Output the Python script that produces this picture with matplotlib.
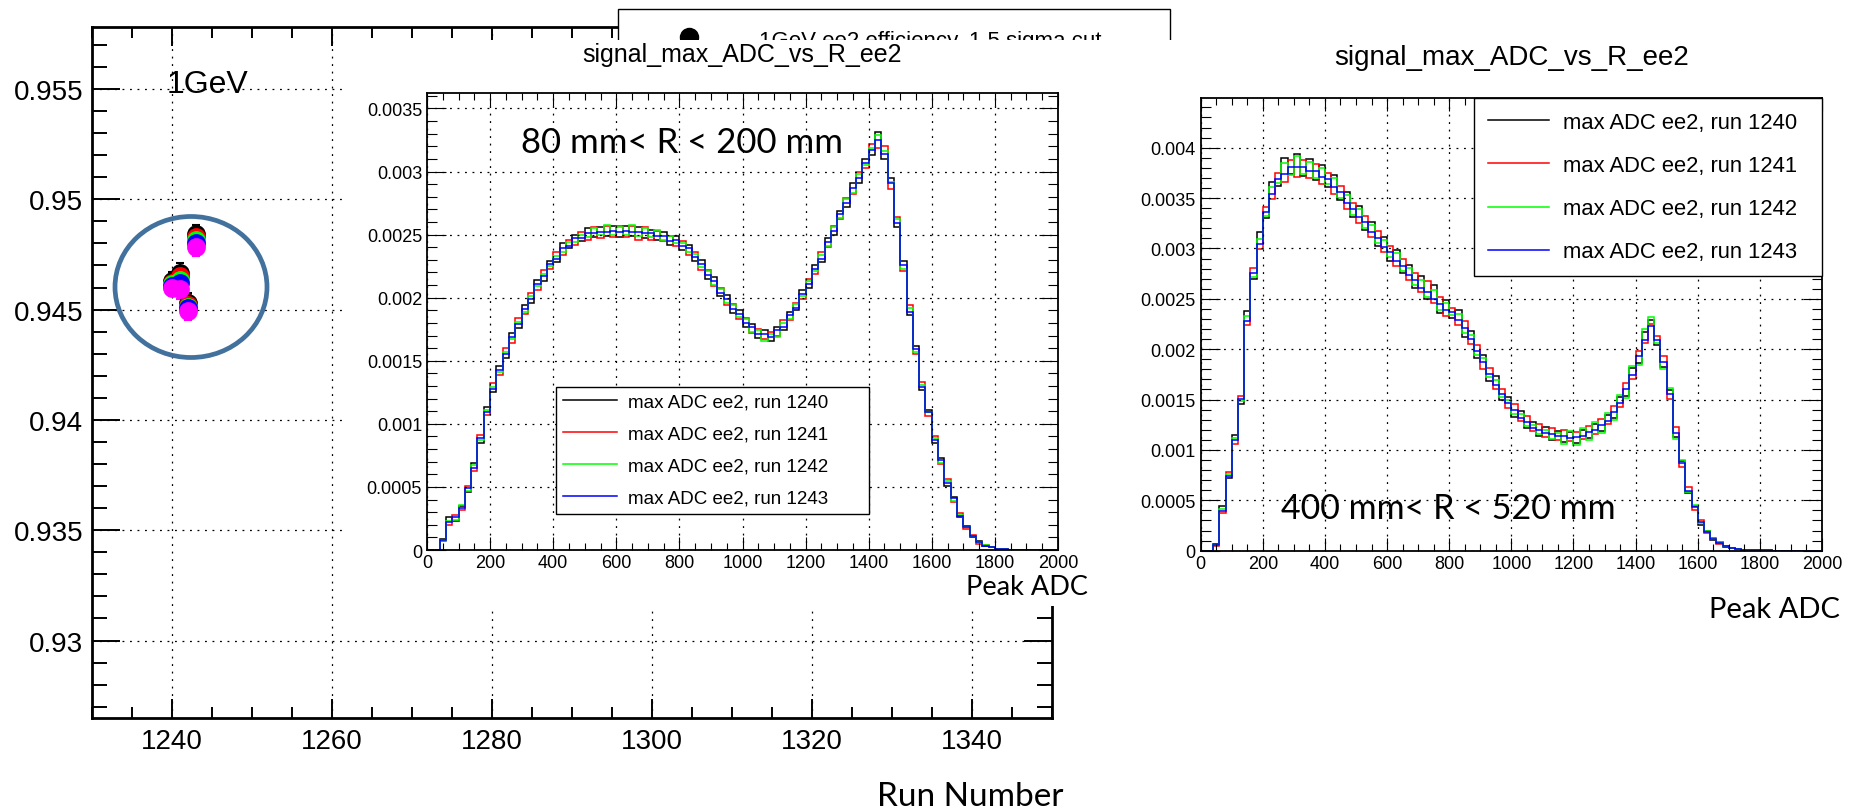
import numpy as np
import matplotlib
matplotlib.use("Agg")
import matplotlib.pyplot as plt
from matplotlib.patches import Rectangle, Ellipse
from matplotlib.lines import Line2D
from matplotlib.ticker import MultipleLocator, FormatStrFormatter

plt.rcParams['font.family'] = ['Liberation Sans', 'DejaVu Sans']

# ---- efficiency vs run (left panel) ----
runs = [1240, 1241, 1242, 1243]
eff_black = [0.94630, 0.94668, 0.94532, 0.94842]
eff_red = [0.94622, 0.94652, 0.94522, 0.94828]
eff_green = [0.94614, 0.94636, 0.94514, 0.94814]
eff_blue = [0.94607, 0.94620, 0.94506, 0.94800]
eff_magenta = [0.94600, 0.94593, 0.94496, 0.94782]
eff_err = [0.00040, 0.00045, 0.00045, 0.00040]
legend_top = "1GeV ee2 efficiency, 1.5 sigma cut"

# ---- peak ADC histograms, 20 ADC bins, values in units of 1e-4 ----
adc_edges = np.arange(0, 2001, 20)
run_labels = ["max ADC ee2, run 1240", "max ADC ee2, run 1241",
              "max ADC ee2, run 1242", "max ADC ee2, run 1243"]

# 80 mm < R < 200 mm
inner_1240 = [0, 0, 0.9, 2.6, 2.3, 3.5, 4.6, 6.9, 8.5, 11.3,
              12.5, 14.6, 15.2, 17.2, 17.6, 19.4, 19.6, 21.4, 21.3, 22.9,
              22.8, 24.3, 23.9, 25.0, 24.5, 25.5, 24.8, 25.6, 24.9, 25.7,
              24.8, 25.7, 24.9, 25.6, 24.7, 25.4, 24.6, 25.2, 24.2, 24.9,
              23.8, 24.2, 22.9, 23.0, 21.5, 21.6, 20.1, 20.2, 18.8, 19.0,
              17.7, 17.9, 16.8, 17.4, 16.6, 17.7, 17.4, 18.9, 19.0, 20.6,
              20.8, 22.6, 22.8, 24.7, 25.0, 26.9, 27.2, 29.1, 29.1, 31.0,
              31.3, 33.1, 31.0, 29.5, 25.6, 22.9, 18.6, 16.2, 12.7, 11.1,
              8.5, 7.3, 5.1, 4.2, 2.6, 1.9, 1.0, 0.7, 0.3, 0.2,
              0.1, 0.06, 0.02, 0.02, 0.01, 0, 0, 0, 0, 0]
inner_1241 = [0, 0, 0.7, 2.0, 2.8, 3.2, 5.1, 6.3, 9.1, 10.7,
              13.2, 13.9, 16.0, 16.4, 18.4, 18.7, 20.4, 20.6, 22.2, 22.3,
              23.6, 23.4, 24.6, 24.2, 25.2, 24.6, 25.6, 24.7, 25.7, 24.8,
              25.7, 24.8, 25.7, 24.6, 25.6, 24.6, 25.3, 24.5, 24.9, 24.1,
              24.5, 23.4, 23.6, 22.2, 22.2, 20.9, 20.8, 19.4, 19.5, 18.3,
              18.4, 17.2, 17.5, 16.7, 17.3, 17.0, 18.2, 18.2, 19.6, 19.9,
              21.5, 21.9, 23.6, 24.0, 25.7, 26.2, 27.9, 28.2, 30.0, 30.3,
              32.2, 31.9, 32.0, 28.6, 26.4, 22.1, 19.4, 15.5, 13.3, 10.6,
              9.0, 6.8, 5.6, 3.8, 2.9, 1.7, 1.2, 0.5, 0.4, 0.2,
              0.1, 0.04, 0.03, 0.01, 0.01, 0, 0, 0, 0, 0]
inner_1242 = [0, 0, 0.8, 2.3, 2.4, 3.6, 4.7, 6.7, 8.7, 11.1,
              12.9, 14.1, 15.7, 16.7, 18.1, 18.9, 20.1, 20.9, 21.9, 22.5,
              23.3, 23.6, 24.4, 24.4, 25.0, 24.8, 25.5, 25.0, 25.8, 25.0,
              25.6, 25.0, 25.8, 24.9, 25.5, 24.8, 25.4, 24.6, 24.9, 24.3,
              24.3, 23.6, 23.5, 22.4, 22.1, 21.0, 20.7, 19.6, 19.4, 18.5,
              18.3, 17.3, 17.4, 16.6, 17.1, 16.9, 18.0, 18.3, 19.5, 20.1,
              21.3, 22.1, 23.4, 24.1, 25.6, 26.3, 27.8, 28.3, 29.8, 30.5,
              31.9, 32.9, 31.6, 29.2, 26.2, 22.3, 19.2, 15.7, 13.1, 10.9,
              8.9, 6.9, 5.5, 3.9, 2.8, 1.8, 1.1, 0.6, 0.4, 0.2,
              0.1, 0.05, 0.03, 0.02, 0.01, 0, 0, 0, 0, 0]
inner_1243 = [0, 0, 0.8, 2.2, 2.6, 3.3, 4.9, 6.5, 8.9, 10.9,
              12.8, 14.3, 15.5, 16.9, 17.9, 19.1, 19.9, 21.1, 21.7, 22.7,
              23.1, 23.9, 24.1, 24.7, 24.7, 25.1, 25.1, 25.2, 25.2, 25.3,
              25.2, 25.3, 25.2, 25.2, 25.1, 25.1, 24.9, 24.9, 24.5, 24.6,
              24.1, 23.9, 23.2, 22.7, 21.8, 21.3, 20.4, 19.9, 19.1, 18.7,
              18.0, 17.7, 17.1, 17.1, 16.9, 17.4, 17.7, 18.6, 19.2, 20.3,
              21.1, 22.3, 23.1, 24.4, 25.3, 26.6, 27.5, 28.7, 29.5, 30.7,
              31.7, 32.5, 31.4, 29.1, 25.9, 22.6, 18.9, 15.9, 12.9, 10.9,
              8.7, 7.1, 5.3, 4.1, 2.7, 1.8, 1.1, 0.6, 0.35, 0.2,
              0.1, 0.05, 0.03, 0.01, 0.01, 0, 0, 0, 0, 0]

# 400 mm < R < 520 mm
outer_1240 = [0, 0, 0.7, 4.4, 7.2, 11.5, 14.6, 23.8, 27.0, 31.6,
              33.0, 36.6, 36.2, 39.0, 37.4, 39.4, 37.2, 38.9, 36.8, 38.3,
              36.1, 37.3, 34.8, 35.6, 33.1, 34.2, 31.8, 32.6, 30.2, 31.1,
              28.8, 29.8, 27.6, 28.4, 26.1, 27.3, 25.0, 26.4, 23.6, 24.9,
              23.1, 23.9, 21.2, 21.8, 19.1, 19.4, 16.8, 17.3, 15.0, 15.3,
              13.3, 13.9, 12.2, 12.8, 11.4, 12.3, 11.0, 11.9, 10.8, 11.8,
              10.7, 12.0, 11.2, 12.6, 11.9, 13.5, 13.2, 15.3, 15.4, 18.1,
              18.6, 21.7, 22.9, 20.4, 18.2, 15.9, 11.3, 8.9, 5.7, 4.4,
              2.6, 2.0, 1.1, 0.9, 0.4, 0.3, 0.2, 0.1, 0.07, 0.05,
              0.03, 0.02, 0.01, 0.01, 0, 0, 0, 0, 0, 0]
outer_1241 = [0, 0, 0.5, 3.7, 7.8, 10.6, 15.4, 22.4, 28.1, 29.9,
              34.1, 34.9, 37.5, 36.6, 38.8, 37.1, 38.8, 37.0, 38.4, 36.4,
              37.5, 35.4, 36.2, 33.9, 34.5, 32.5, 33.2, 31.1, 31.7, 29.6,
              30.2, 28.3, 29.0, 26.9, 27.6, 25.7, 26.8, 24.6, 25.2, 23.3,
              24.1, 22.4, 22.8, 20.5, 20.4, 18.0, 18.1, 16.0, 16.0, 14.2,
              14.6, 12.9, 13.4, 11.9, 12.6, 11.3, 12.2, 11.0, 12.0, 10.9,
              11.8, 11.1, 12.4, 11.6, 13.1, 12.6, 14.4, 14.3, 16.6, 17.0,
              19.8, 20.6, 22.5, 21.3, 19.3, 15.1, 12.3, 8.3, 6.3, 4.0,
              3.0, 1.8, 1.3, 0.7, 0.5, 0.3, 0.2, 0.1, 0.09, 0.05,
              0.03, 0.02, 0.01, 0.01, 0, 0, 0, 0, 0, 0]
outer_1242 = [0, 0, 0.6, 4.1, 7.6, 11.2, 14.9, 23.3, 27.2, 30.9,
              33.2, 36.1, 36.5, 38.5, 37.3, 39.2, 37.4, 38.6, 37.0, 38.0,
              36.4, 37.0, 35.0, 35.3, 33.3, 33.9, 32.0, 32.3, 30.5, 30.8,
              29.1, 29.5, 27.8, 28.1, 26.4, 26.9, 25.2, 25.9, 23.9, 24.6,
              23.4, 23.5, 21.6, 21.4, 19.4, 19.1, 17.2, 16.9, 15.3, 15.0,
              13.6, 13.6, 12.4, 12.5, 11.6, 12.0, 11.1, 11.7, 10.6, 11.9,
              10.5, 12.2, 11.0, 12.8, 11.7, 13.7, 13.0, 15.5, 15.2, 18.3,
              18.4, 22.0, 23.2, 20.6, 18.0, 16.1, 11.1, 9.0, 5.8, 4.5,
              2.7, 2.0, 1.2, 0.9, 0.5, 0.3, 0.2, 0.1, 0.08, 0.05,
              0.03, 0.02, 0.01, 0.01, 0, 0, 0, 0, 0, 0]
outer_1243 = [0, 0, 0.6, 3.9, 7.4, 11.0, 15.1, 22.8, 27.6, 30.4,
              33.6, 35.4, 36.9, 37.4, 38.1, 38.1, 38.1, 37.7, 37.7, 37.1,
              36.9, 36.1, 35.6, 34.5, 33.9, 33.1, 32.6, 31.6, 31.0, 30.1,
              29.6, 28.8, 28.3, 27.4, 26.9, 26.1, 25.7, 25.0, 24.5, 23.9,
              23.7, 22.9, 22.1, 21.0, 19.8, 18.7, 17.5, 16.4, 15.6, 14.7,
              14.0, 13.2, 12.8, 12.2, 12.0, 11.7, 11.6, 11.4, 11.4, 11.2,
              11.3, 11.4, 11.8, 12.0, 12.5, 12.9, 13.8, 14.7, 16.0, 17.4,
              19.3, 20.9, 22.3, 20.9, 18.7, 15.6, 11.7, 8.7, 5.9, 4.3,
              2.8, 1.9, 1.2, 0.8, 0.5, 0.3, 0.2, 0.1, 0.08, 0.05,
              0.03, 0.02, 0.01, 0.01, 0, 0, 0, 0, 0, 0]

W, H = 1850, 812


def box(l, t, r, b):
    # pixel box (top-left origin) -> figure fraction [x, y, w, h]
    return [l / W, 1 - b / H, (r - l) / W, (b - t) / H]


def root_style(a, xmaj, xmin, ymaj, ymin, spine_w, tick_w, size, padx, pady):
    a.tick_params(which='both', direction='in', top=True, right=True,
                  width=tick_w, labelsize=size)
    a.tick_params(axis='x', which='major', length=xmaj, pad=padx)
    a.tick_params(axis='x', which='minor', length=xmin)
    a.tick_params(axis='y', which='major', length=ymaj, pad=pady)
    a.tick_params(axis='y', which='minor', length=ymin)
    for s in a.spines.values():
        s.set_linewidth(spine_w)
    a.grid(True, which='major', color='black', ls=(0, (1.5, 4.5)), lw=0.9)


fig = plt.figure(figsize=(18.5, 8.12), dpi=100)

# left: efficiency vs run number
ax = fig.add_axes(box(91.7, 28, 1052, 719), zorder=0)
for vals, c in [(eff_black, 'black'), (eff_red, 'red'), (eff_green, '#00ff00'),
                (eff_blue, 'blue'), (eff_magenta, '#ff00ff')]:
    ax.errorbar(runs, vals, yerr=eff_err, fmt='o', color=c, ms=12.5,
                elinewidth=1.5, capsize=3, capthick=1.5)
ax.set_xlim(1230, 1350)
ax.set_ylim(0.92649, 0.95781)
ax.xaxis.set_major_locator(MultipleLocator(20))
ax.xaxis.set_minor_locator(MultipleLocator(5))
ax.yaxis.set_major_locator(MultipleLocator(0.005))
ax.yaxis.set_minor_locator(MultipleLocator(0.001))
ax.yaxis.set_major_formatter(FormatStrFormatter('%g'))
root_style(ax, 14, 8, 20, 11, 2.0, 1.4, 20, 7, 6)
ax.text(0.078, 0.917, "1GeV", transform=ax.transAxes, fontsize=23,
        ha='left', va='center')
fig.add_artist(Ellipse((191 / W, 1 - 288 / H), 152 / W, 141 / H,
                       transform=fig.transFigure, fill=False,
                       edgecolor='#41719C', lw=3.4, zorder=1))

# top legend of the efficiency plot (partly hidden)
fig.add_artist(Rectangle((618 / W, 1 - 70 / H), 552 / W, 60 / H,
                         transform=fig.transFigure, facecolor='white',
                         edgecolor='black', lw=1.0, zorder=1))
fig.add_artist(Line2D([689 / W], [1 - 38 / H], marker='o', ms=13,
                      color='black', transform=fig.transFigure, zorder=1.1))
fig.text(759 / W, 1 - 47 / H, legend_top, fontsize=16, va='baseline',
         zorder=1.2)
fig.text(877 / W, 1 - 797 / H, "Run Number", fontsize=24, family='Lato',
         va='center', ha='left', zorder=1.2)

colors = ['black', 'red', '#00ff00', 'blue']

# inset: 80 mm < R < 200 mm
fig.add_artist(Rectangle((347 / W, 1 - 607 / H), 750 / W, 566 / H,
                         transform=fig.transFigure, facecolor='white',
                         edgecolor='none', zorder=2))
ax2 = fig.add_axes(box(427, 94.3, 1058, 551), zorder=3)
for vals, c, lab in zip([inner_1240, inner_1241, inner_1242, inner_1243],
                        colors, run_labels):
    ax2.stairs(np.array(vals) * 1e-4, adc_edges, color=c, lw=1.1, label=lab)
ax2.set_xlim(0, 2000)
ax2.set_ylim(0, 0.00362)
ax2.set_title("signal_max_ADC_vs_R_ee2", fontsize=18, pad=23.5)
ax2.text(0.149, 0.893, "80 mm< R < 200 mm", transform=ax2.transAxes,
         fontsize=25, family='Lato', va='center')
leg2 = ax2.legend(loc='upper left', bbox_to_anchor=(0.204, 0.075, 0.496, 0.283),
                  mode='expand', fontsize=13.5, frameon=True, fancybox=False,
                  edgecolor='black', framealpha=1, handlelength=2.9,
                  handletextpad=0.6, borderpad=0.37, labelspacing=0.8,
                  borderaxespad=0)
leg2.get_frame().set_linewidth(1.0)
fig.text(1088 / W, 1 - 588 / H, "Peak ADC", fontsize=19.5, family='Lato',
         ha='right', va='center', zorder=3.5)

# right: 400 mm < R < 520 mm
fig.add_artist(Rectangle((1097 / W, 0), 753 / W, 1 - 41 / H,
                         transform=fig.transFigure, facecolor='white',
                         edgecolor='none', zorder=4))
ax3 = fig.add_axes(box(1200.7, 99.3, 1822, 551.7), zorder=5)
for vals, c, lab in zip([outer_1240, outer_1241, outer_1242, outer_1243],
                        colors, run_labels):
    ax3.stairs(np.array(vals) * 1e-4, adc_edges, color=c, lw=1.1, label=lab)
ax3.set_xlim(0, 2000)
ax3.set_ylim(0, 0.00449)
ax3.set_title("signal_max_ADC_vs_R_ee2", fontsize=20, pad=25)
ax3.text(0.13, 0.095, "400 mm< R < 520 mm", transform=ax3.transAxes,
         fontsize=24.5, family='Lato', va='center')
leg3 = ax3.legend(loc='upper left', bbox_to_anchor=(0.44, 0.6, 0.56, 0.4),
                  mode='expand', fontsize=15.8, frameon=True, fancybox=False,
                  edgecolor='black', framealpha=1, handlelength=2.8,
                  handletextpad=0.65, borderpad=0.62, labelspacing=1.01,
                  borderaxespad=0)
leg3.get_frame().set_linewidth(1.0)
fig.text(1840 / W, 1 - 610 / H, "Peak ADC", fontsize=21, family='Lato',
         ha='right', va='center', zorder=6)

for a in (ax2, ax3):
    a.xaxis.set_major_locator(MultipleLocator(200))
    a.xaxis.set_minor_locator(MultipleLocator(50))
    a.yaxis.set_major_locator(MultipleLocator(0.0005))
    a.yaxis.set_minor_locator(MultipleLocator(0.0001))
    a.yaxis.set_major_formatter(FormatStrFormatter('%g'))
    root_style(a, 9.4, 4.7, 14, 7, 1.3, 0.8, 13, 3, 3.6)

fig.savefig("out.png", dpi=100)
